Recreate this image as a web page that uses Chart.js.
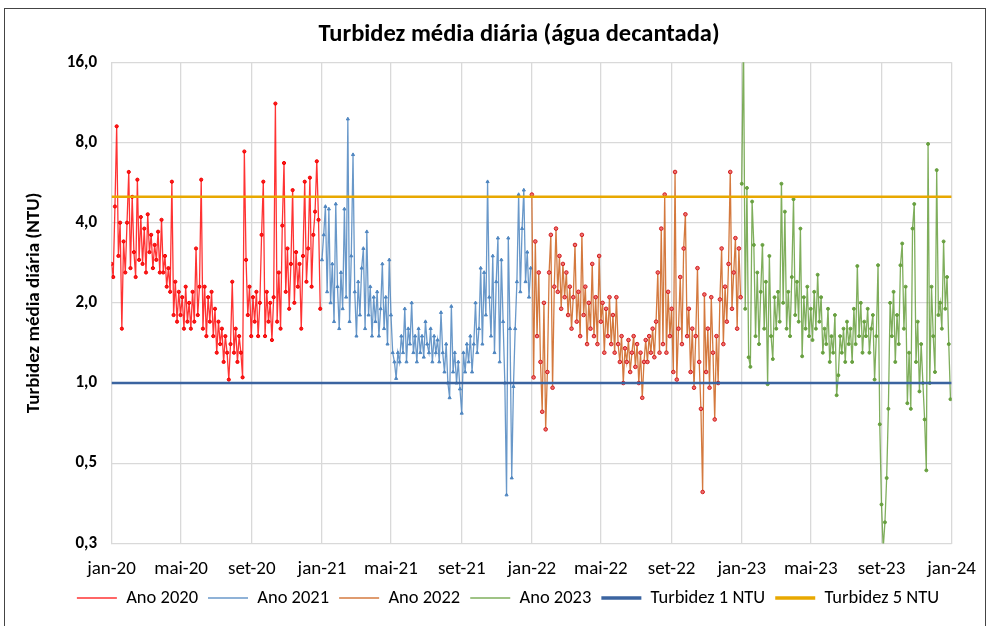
<!DOCTYPE html>
<html>
<head>
<meta charset="utf-8">
<script src="https://cdn.jsdelivr.net/npm/chart.js@4.4.1/dist/chart.umd.min.js"></script>
<style>
  html, body { margin: 0; padding: 0; background: #fff; }
  #wrap { position: relative; width: 990px; height: 626px; overflow: hidden; }
  #frame { position: absolute; left: 4px; top: 8px; width: 980px; height: 660px; border: 1px solid #444; }
  #turbChart { position: absolute; left: 0; top: 0; }
</style>
</head>
<body>
<div id="wrap">
  <div id="frame"></div>
  <canvas id="turbChart" width="990" height="626"></canvas>
</div>
<script>
// Turbidez média diária, one sample every 3 days
const FONT = "Carlito, Calibri, 'Open Sans', sans-serif";
const STEP_DAYS = 3;

const CHART_TITLE = "Turbidez média diária (água decantada)";
const Y_TITLE = "Turbidez média diária (NTU)";

const YEAR_START_DAY = [0, 366, 731, 1096]; // days since 1 jan 2020
const YEAR_LABELS = ["Ano 2020", "Ano 2021", "Ano 2022", "Ano 2023"];

const ano2020 = [
  2.8, 2.5, 4.6, 9.2, 3.0, 4.0, 1.6, 3.4, 2.6, 4.0, 6.2, 2.7, 5.0, 3.1, 2.5, 5.8,
  2.9, 4.2, 2.8, 3.8, 2.6, 4.3, 3.1, 3.6, 2.7, 3.3, 2.9, 3.7, 2.6, 4.1, 2.6, 3.0,
  2.3, 2.7, 2.2, 5.7, 1.8, 2.4, 1.7, 2.2, 1.8, 2.1, 1.6, 2.3, 1.7, 2.0, 1.6, 2.2,
  1.7, 3.2, 1.8, 2.3, 5.8, 1.6, 2.3, 1.5, 2.1, 1.7, 2.2, 1.5, 1.9, 1.3, 1.7, 1.4,
  1.6, 1.2, 1.5, 1.3, 1.03, 1.4, 2.4, 1.3, 1.6, 1.2, 1.5, 1.3, 1.05, 7.4, 2.9, 1.8,
  2.3, 1.5, 2.1, 1.7, 2.2, 1.5, 2.0, 3.6, 5.7, 1.5, 2.2, 1.7, 2.0, 1.45, 2.1, 11.2,
  1.7, 2.6, 1.6, 3.9, 6.7, 2.2, 3.2, 1.9, 2.8, 5.3, 2.0, 3.1, 2.3, 2.8, 1.6, 3.0,
  5.7, 2.4, 3.2, 5.9, 2.3, 3.6, 4.4, 6.8, 4.1, 1.9
];

const ano2021 = [
  2.9, 3.6, 4.6, 2.2, 4.5, 2.0, 2.8, 1.7, 4.7, 2.3, 1.6, 2.6, 1.9, 4.5, 2.1, 9.8,
  1.7, 3.0, 7.2, 2.2, 1.5, 2.4, 1.8, 2.7, 3.2, 1.6, 3.7, 1.8, 2.3, 1.5, 2.1, 1.7,
  2.2, 1.5, 1.9, 2.8, 1.6, 2.1, 1.4, 2.9, 1.8, 1.3, 1.2, 1.04, 1.3, 1.2, 1.5, 1.3,
  1.9, 1.2, 1.6, 1.4, 2.0, 1.3, 1.5, 1.2, 1.6, 1.3, 1.5, 1.25, 1.7, 1.4, 1.3, 1.6,
  1.2, 1.5, 1.3, 1.45, 1.2, 1.84, 1.3, 1.1, 1.4, 1.0, 0.88, 1.94, 1.1, 1.3, 1.0, 1.2,
  0.95, 0.77, 1.3, 1.1, 1.4, 1.2, 1.5, 1.1, 1.4, 2.0, 1.3, 1.6, 2.7, 1.4, 2.6, 1.8,
  5.7, 2.1, 1.5, 3.0, 1.3, 2.4, 3.5, 1.2, 2.9, 1.7, 1.0, 0.38, 3.5, 1.6, 0.44, 0.97,
  1.6, 2.4, 5.1, 2.2, 3.8, 5.3, 2.4, 3.1, 2.1, 2.7
];

const ano2022 = [
  5.1, 1.05, 3.4, 1.5, 2.6, 1.2, 0.78, 2.0, 0.67, 1.1, 2.6, 3.6, 0.96, 2.3, 3.8, 2.2,
  3.0, 1.9, 2.8, 2.1, 2.6, 1.8, 2.3, 1.6, 2.1, 3.3, 1.7, 2.2, 1.5, 3.6, 1.8, 2.3,
  1.4, 2.0, 1.6, 2.8, 1.5, 2.1, 1.4, 3.0, 1.7, 2.0, 1.3, 1.9, 1.5, 2.1, 1.4, 1.8,
  1.3, 2.1, 1.4, 1.2, 1.5, 1.0, 1.35, 1.2, 1.45, 1.1, 1.3, 1.5, 1.15, 1.4, 1.0, 1.3,
  0.88, 1.2, 1.45, 1.2, 1.5, 1.3, 1.6, 1.25, 1.7, 2.6, 1.3, 3.8, 1.4, 5.1, 1.3, 2.2,
  1.5, 1.9, 1.1, 6.2, 1.03, 1.6, 2.5, 1.4, 3.2, 4.3, 1.5, 1.9, 1.1, 1.6, 0.96, 1.5,
  2.7, 1.2, 0.8, 0.39, 2.15, 1.1, 1.6, 0.96, 2.1, 1.3, 0.73, 1.5, 1.0, 2.06, 3.2, 1.4,
  2.3, 1.7, 2.8, 6.2, 1.9, 2.6, 3.5, 1.6, 3.2, 2.1
];

const ano2023 = [
  5.6, 20, 1.9, 5.4, 1.25, 1.15, 4.8, 3.3, 1.5, 2.6, 1.4, 2.2, 3.3, 1.6, 2.4, 0.99,
  3.0, 1.5, 1.23, 2.1, 1.6, 2.2, 1.7, 5.6, 2.0, 4.4, 1.6, 2.2, 1.5, 2.5, 4.9, 1.8,
  2.4, 1.7, 3.8, 1.26, 2.1, 1.6, 2.3, 1.5, 1.9, 1.45, 2.2, 1.6, 2.55, 1.7, 2.1, 1.3,
  1.6, 1.4, 1.9, 1.2, 1.5, 1.3, 1.8, 0.9, 1.07, 1.5, 1.3, 1.6, 1.2, 1.7, 1.4, 1.6,
  1.2, 1.9, 1.4, 2.75, 1.5, 2.0, 1.3, 1.7, 1.5, 1.9, 1.3, 1.6, 1.8, 1.03, 1.5, 2.77,
  0.7, 0.35, 0.24, 0.3, 0.44, 0.8, 2.0, 1.5, 2.2, 1.2, 1.8, 1.4, 2.77, 3.34, 1.6, 2.3,
  0.84, 1.3, 0.8, 3.8, 4.7, 1.2, 1.7, 0.93, 1.4, 1.0, 0.73, 0.47, 7.9, 1.0, 2.3, 1.5,
  1.1, 6.3, 1.8, 2.0, 1.6, 3.4, 1.9, 2.5, 1.4, 0.87
];

const LIMIT_1_NTU = 1;
const LIMIT_5_NTU = 5;
const AXIS_END_DAY = 1461;

const TICK_DAYS = [0, 121, 244, 366, 486, 609, 731, 851, 974, 1096, 1216, 1339, 1461];
const TICK_LABELS = ["jan-20", "mai-20", "set-20", "jan-21", "mai-21", "set-21", "jan-22",
  "mai-22", "set-22", "jan-23", "mai-23", "set-23", "jan-24"];
const Y_TICKS = [0.25, 0.5, 1, 2, 4, 8, 16];

const toPoints = (values, yearIdx) =>
  values.map((v, i) => ({ x: YEAR_START_DAY[yearIdx] + i * STEP_DAYS, y: v }));

const seriesStyle = (label, values, idx, line, pointFill, pointBorder, pointStyle, radius, order) => ({
  label,
  data: toPoints(values, idx),
  borderColor: line,
  backgroundColor: pointFill,
  pointBackgroundColor: pointFill,
  pointBorderColor: pointBorder,
  pointBorderWidth: 1,
  pointStyle,
  pointRadius: radius,
  borderWidth: 1.3,
  tension: 0,
  order,
});

const datasets = [
  seriesStyle(YEAR_LABELS[0], ano2020, 0, "rgba(255, 0, 0, 0.8)", "#ff1a1a", "#f00000", "circle", 1.6, 5),
  seriesStyle(YEAR_LABELS[1], ano2021, 1, "rgba(79, 134, 192, 0.85)", "#4f86c0", "#4f86c0", "triangle", 1.8, 4),
  seriesStyle(YEAR_LABELS[2], ano2022, 2, "rgba(204, 98, 28, 0.85)", "#f07070", "#d01c1c", "circle", 1.8, 3),
  seriesStyle(YEAR_LABELS[3], ano2023, 3, "rgba(104, 160, 64, 0.85)", "#68a040", "#68a040", "circle", 1.5, 2),
  {
    label: "Turbidez 1 NTU",
    data: [{ x: 0, y: LIMIT_1_NTU }, { x: AXIS_END_DAY, y: LIMIT_1_NTU }],
    borderColor: "#3b64a0",
    backgroundColor: "#3b64a0",
    borderWidth: 2.5,
    pointRadius: 0,
    order: 1,
  },
  {
    label: "Turbidez 5 NTU",
    data: [{ x: 0, y: LIMIT_5_NTU }, { x: AXIS_END_DAY, y: LIMIT_5_NTU }],
    borderColor: "#e8a800",
    backgroundColor: "#e8a800",
    borderWidth: 2.5,
    pointRadius: 0,
    order: 0,
  },
];

const formatNtu = (v) => v.toFixed(1).replace(".", ",");

// chart title sits a bit right of the canvas centre, like the original
const titlePlugin = {
  id: "chartTitle",
  afterDraw: (chart) => {
    const { ctx } = chart;
    ctx.save();
    ctx.font = `bold 24.5px ${FONT}`;
    ctx.fillStyle = "#000";
    ctx.textAlign = "center";
    ctx.textBaseline = "middle";
    ctx.fillText(CHART_TITLE, 519, 35);
    ctx.restore();
  },
};

new Chart(document.getElementById("turbChart").getContext("2d"), {
  type: "line",
  data: { datasets },
  plugins: [titlePlugin],
  options: {
    responsive: false,
    animation: false,
    layout: { padding: { left: 64, right: 38, top: 62.3, bottom: 8.7 } },
    plugins: {
      title: { display: false },
      legend: {
        position: "bottom",
        labels: {
          color: "#000",
          font: { family: FONT, size: 18.5 },
          usePointStyle: true,
          pointStyleWidth: 40,
          padding: 10,
          sort: (a, b) => a.datasetIndex - b.datasetIndex,
          generateLabels: (chart) =>
            chart.data.datasets.map((ds, i) => ({
              text: ds.label,
              datasetIndex: i,
              pointStyle: "line",
              strokeStyle: ds.borderColor,
              fillStyle: ds.borderColor,
              lineWidth: ds.borderWidth >= 2 ? 3.5 : 1.6,
              fontColor: "#000",
              hidden: false,
            })),
        },
      },
      tooltip: { enabled: false },
    },
    scales: {
      x: {
        type: "linear",
        min: 0,
        max: AXIS_END_DAY,
        afterBuildTicks: (scale) => {
          scale.ticks = TICK_DAYS.map((v) => ({ value: v }));
        },
        afterFit: (scale) => {
          scale.height = 35.4;
        },
        border: { color: "#d9d9d9", width: 1 },
        grid: { color: "#d9d9d9", lineWidth: 1.3, drawTicks: false },
        ticks: {
          color: "#000",
          padding: 14,
          maxRotation: 0,
          autoSkip: false,
          font: { family: FONT, size: 19 },
          callback: (v) => TICK_LABELS[TICK_DAYS.indexOf(v)],
        },
      },
      y: {
        type: "logarithmic",
        min: 0.25,
        max: 16,
        afterBuildTicks: (scale) => {
          scale.ticks = Y_TICKS.map((v) => ({ value: v }));
        },
        afterFit: (scale) => {
          scale.width = 47.5;
        },
        border: { color: "#d9d9d9", width: 1 },
        grid: { color: "#d9d9d9", lineWidth: 1.3, drawTicks: false },
        ticks: {
          color: "#000",
          padding: 14.5,
          autoSkip: false,
          font: { family: FONT, size: 17, weight: "bold" },
          callback: (v) => formatNtu(v),
        },
        title: {
          display: true,
          text: Y_TITLE,
          color: "#000",
          font: { family: FONT, size: 19, weight: "bold" },
          padding: { top: -41, bottom: 0 },
        },
      },
    },
  },
});
</script>
</body>
</html>
